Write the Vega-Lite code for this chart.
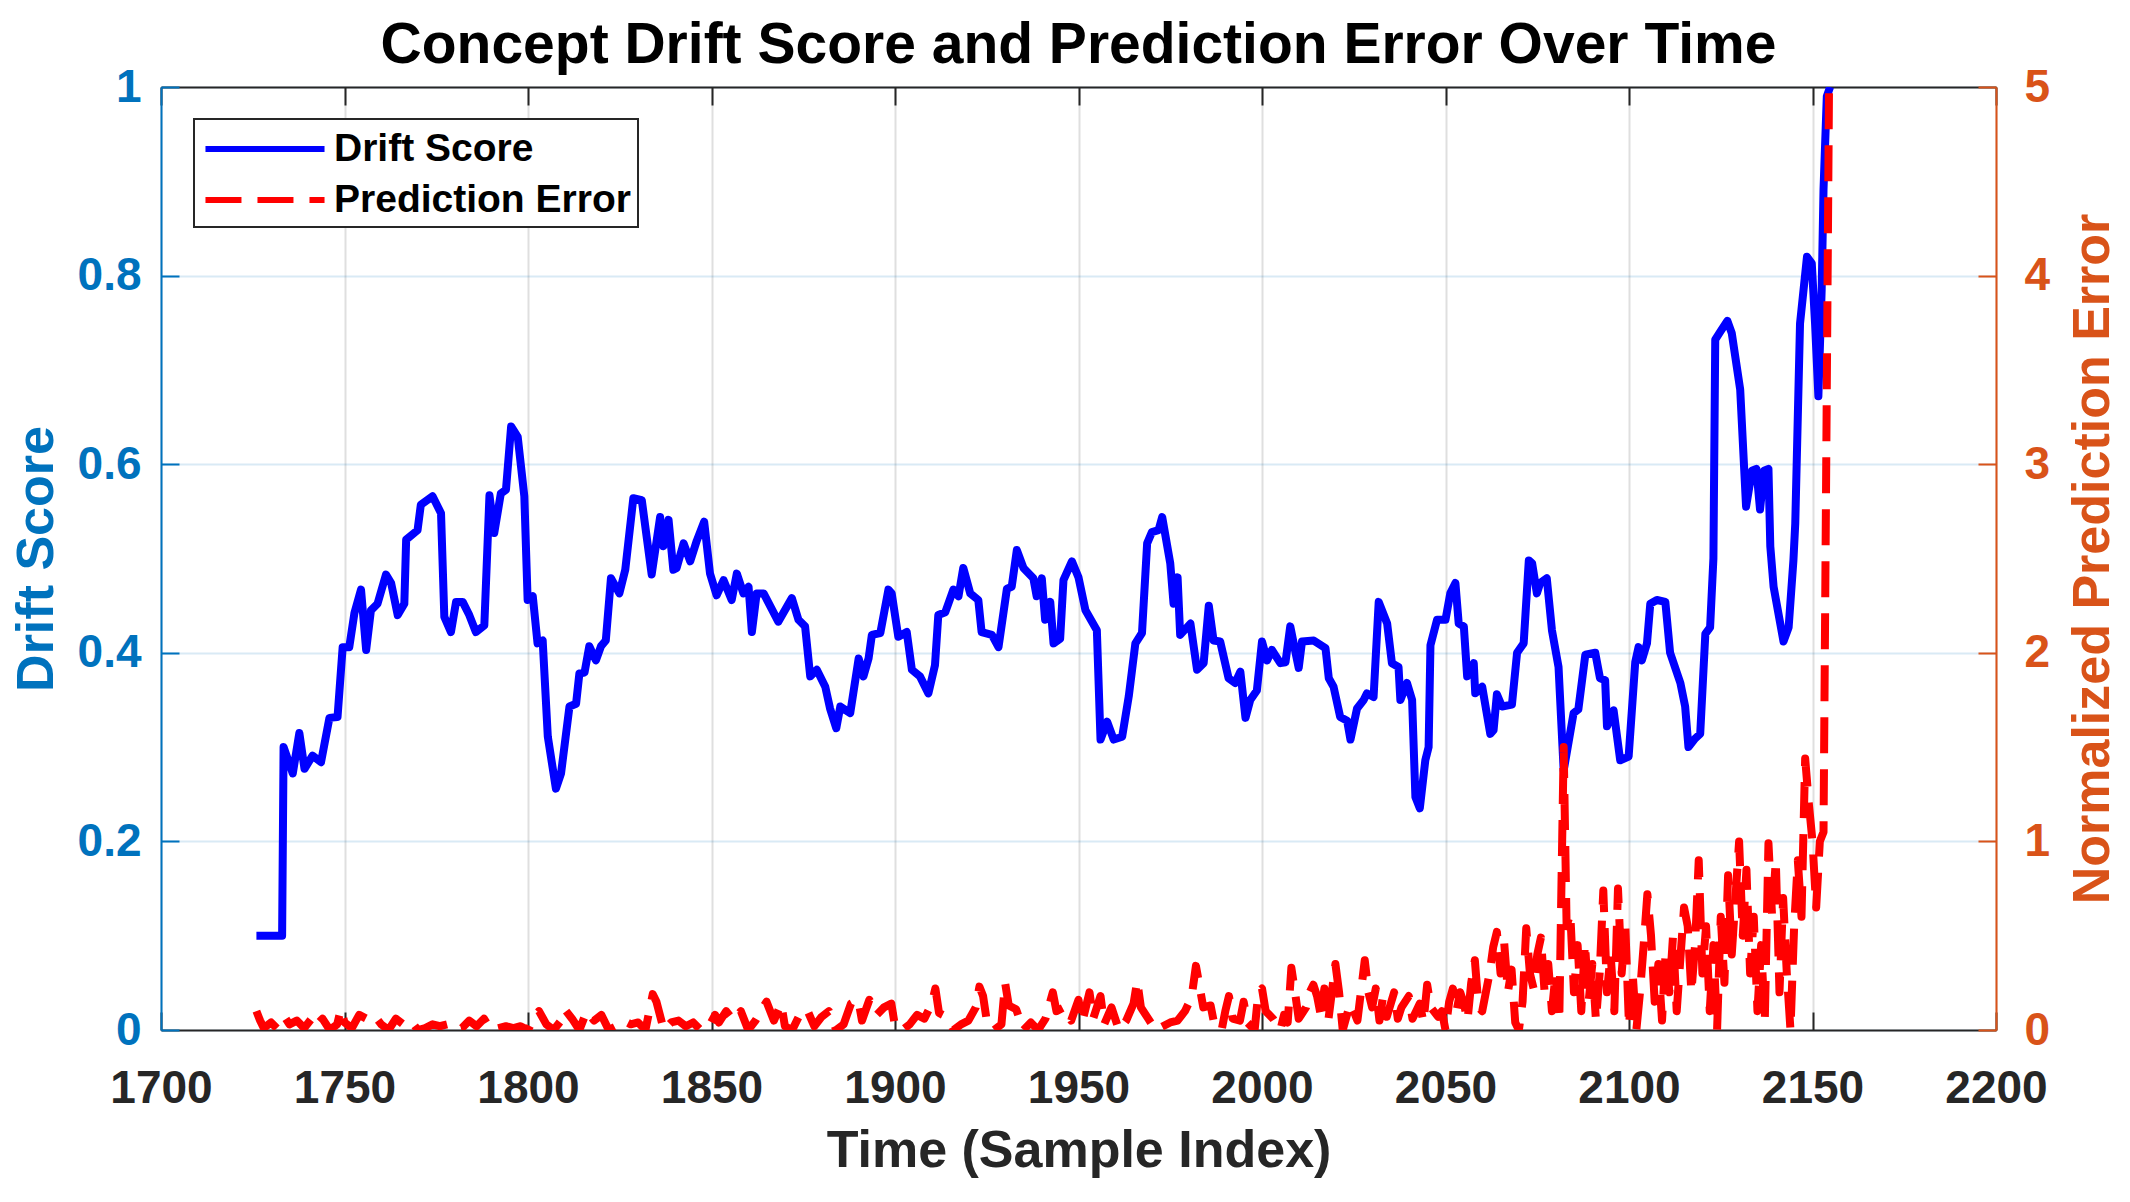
{
  "$schema": "https://vega.github.io/schema/vega-lite/v6.json",
  "width": 1835,
  "height": 943,
  "autosize": {"type": "none"},
  "padding": {"left": 161, "top": 87, "right": 134, "bottom": 172},
  "background": "white",
  "title": {
    "text": "Concept Drift Score and Prediction Error Over Time",
    "font": "Liberation Sans",
    "fontSize": 57,
    "fontWeight": "bold",
    "color": "#000000",
    "anchor": "middle",
    "offset": -11
  },
  "config": {"view": {"stroke": null}, "font": "Liberation Sans"},
  "datasets": {
    "drift": [
      {"t": 1726.0, "v": 0.1}, {"t": 1733.0, "v": 0.1}, {"t": 1733.4, "v": 0.3}, {"t": 1735.9, "v": 0.272},
      {"t": 1737.7, "v": 0.315}, {"t": 1739.1, "v": 0.277}, {"t": 1741.3, "v": 0.291}, {"t": 1743.6, "v": 0.284},
      {"t": 1745.9, "v": 0.331}, {"t": 1748.1, "v": 0.332}, {"t": 1749.5, "v": 0.406}, {"t": 1751.3, "v": 0.406},
      {"t": 1752.7, "v": 0.442}, {"t": 1754.5, "v": 0.467}, {"t": 1755.9, "v": 0.403}, {"t": 1757.2, "v": 0.445},
      {"t": 1759.0, "v": 0.452}, {"t": 1761.3, "v": 0.483}, {"t": 1762.7, "v": 0.474}, {"t": 1764.5, "v": 0.44},
      {"t": 1766.3, "v": 0.452}, {"t": 1766.8, "v": 0.52}, {"t": 1769.9, "v": 0.53}, {"t": 1770.8, "v": 0.557},
      {"t": 1774.0, "v": 0.566}, {"t": 1776.3, "v": 0.548}, {"t": 1777.2, "v": 0.438}, {"t": 1779.0, "v": 0.422},
      {"t": 1780.4, "v": 0.454}, {"t": 1782.2, "v": 0.454}, {"t": 1784.0, "v": 0.44}, {"t": 1785.8, "v": 0.422},
      {"t": 1788.1, "v": 0.429}, {"t": 1789.5, "v": 0.567}, {"t": 1790.8, "v": 0.527}, {"t": 1792.6, "v": 0.569},
      {"t": 1794.0, "v": 0.573}, {"t": 1795.4, "v": 0.64}, {"t": 1797.2, "v": 0.629}, {"t": 1799.0, "v": 0.566},
      {"t": 1799.9, "v": 0.456}, {"t": 1801.3, "v": 0.46}, {"t": 1802.6, "v": 0.41}, {"t": 1804.0, "v": 0.413},
      {"t": 1805.4, "v": 0.311}, {"t": 1807.6, "v": 0.256}, {"t": 1809.0, "v": 0.272}, {"t": 1811.3, "v": 0.343},
      {"t": 1813.1, "v": 0.346}, {"t": 1814.0, "v": 0.378}, {"t": 1815.4, "v": 0.379}, {"t": 1816.7, "v": 0.407},
      {"t": 1818.5, "v": 0.392}, {"t": 1819.9, "v": 0.407}, {"t": 1821.2, "v": 0.413}, {"t": 1822.6, "v": 0.479},
      {"t": 1824.9, "v": 0.463}, {"t": 1826.5, "v": 0.488}, {"t": 1828.7, "v": 0.564}, {"t": 1831.0, "v": 0.562},
      {"t": 1833.7, "v": 0.483}, {"t": 1836.0, "v": 0.544}, {"t": 1836.9, "v": 0.513}, {"t": 1838.3, "v": 0.541},
      {"t": 1839.6, "v": 0.488}, {"t": 1840.5, "v": 0.49}, {"t": 1842.4, "v": 0.516}, {"t": 1844.2, "v": 0.497},
      {"t": 1846.0, "v": 0.519}, {"t": 1848.0, "v": 0.539}, {"t": 1849.6, "v": 0.484}, {"t": 1851.4, "v": 0.461},
      {"t": 1853.3, "v": 0.477}, {"t": 1855.5, "v": 0.456}, {"t": 1856.9, "v": 0.484}, {"t": 1858.7, "v": 0.463},
      {"t": 1860.1, "v": 0.47}, {"t": 1861.0, "v": 0.422}, {"t": 1862.3, "v": 0.463}, {"t": 1864.2, "v": 0.463},
      {"t": 1868.2, "v": 0.433}, {"t": 1871.9, "v": 0.458}, {"t": 1873.7, "v": 0.435}, {"t": 1875.5, "v": 0.428},
      {"t": 1876.9, "v": 0.375}, {"t": 1878.7, "v": 0.382}, {"t": 1881.0, "v": 0.364}, {"t": 1882.3, "v": 0.341},
      {"t": 1884.0, "v": 0.32}, {"t": 1885.1, "v": 0.343}, {"t": 1887.8, "v": 0.336}, {"t": 1890.1, "v": 0.394},
      {"t": 1891.4, "v": 0.375}, {"t": 1892.8, "v": 0.394}, {"t": 1893.7, "v": 0.419}, {"t": 1896.0, "v": 0.421},
      {"t": 1898.2, "v": 0.467}, {"t": 1899.1, "v": 0.463}, {"t": 1900.9, "v": 0.417}, {"t": 1903.2, "v": 0.422},
      {"t": 1904.6, "v": 0.382}, {"t": 1906.8, "v": 0.375}, {"t": 1909.1, "v": 0.357}, {"t": 1910.9, "v": 0.387},
      {"t": 1911.8, "v": 0.44}, {"t": 1913.7, "v": 0.443}, {"t": 1915.9, "v": 0.467}, {"t": 1917.3, "v": 0.46},
      {"t": 1918.6, "v": 0.49}, {"t": 1920.5, "v": 0.463}, {"t": 1922.7, "v": 0.456}, {"t": 1923.6, "v": 0.422},
      {"t": 1926.4, "v": 0.419}, {"t": 1928.2, "v": 0.406}, {"t": 1930.5, "v": 0.468}, {"t": 1931.8, "v": 0.47},
      {"t": 1933.2, "v": 0.509}, {"t": 1935.0, "v": 0.49}, {"t": 1937.7, "v": 0.479}, {"t": 1938.6, "v": 0.46},
      {"t": 1940.0, "v": 0.479}, {"t": 1940.9, "v": 0.435}, {"t": 1942.3, "v": 0.454}, {"t": 1943.2, "v": 0.41},
      {"t": 1945.0, "v": 0.415}, {"t": 1945.9, "v": 0.477}, {"t": 1948.2, "v": 0.497}, {"t": 1950.0, "v": 0.48},
      {"t": 1951.9, "v": 0.445}, {"t": 1955.0, "v": 0.424}, {"t": 1956.0, "v": 0.308}, {"t": 1957.8, "v": 0.327},
      {"t": 1959.6, "v": 0.308}, {"t": 1961.9, "v": 0.311}, {"t": 1963.7, "v": 0.354}, {"t": 1965.5, "v": 0.41},
      {"t": 1967.3, "v": 0.421}, {"t": 1968.7, "v": 0.516}, {"t": 1970.0, "v": 0.528}, {"t": 1971.8, "v": 0.53},
      {"t": 1972.8, "v": 0.544}, {"t": 1975.0, "v": 0.495}, {"t": 1975.9, "v": 0.452}, {"t": 1977.0, "v": 0.48},
      {"t": 1977.7, "v": 0.419}, {"t": 1980.5, "v": 0.431}, {"t": 1982.3, "v": 0.382}, {"t": 1984.1, "v": 0.389},
      {"t": 1985.5, "v": 0.45}, {"t": 1986.8, "v": 0.413}, {"t": 1988.6, "v": 0.412}, {"t": 1990.9, "v": 0.373},
      {"t": 1992.7, "v": 0.368}, {"t": 1994.1, "v": 0.38}, {"t": 1995.5, "v": 0.331}, {"t": 1996.8, "v": 0.35},
      {"t": 1998.6, "v": 0.36}, {"t": 2000.0, "v": 0.412}, {"t": 2001.4, "v": 0.392}, {"t": 2002.7, "v": 0.403},
      {"t": 2005.0, "v": 0.389}, {"t": 2006.4, "v": 0.39}, {"t": 2007.7, "v": 0.428}, {"t": 2009.1, "v": 0.401},
      {"t": 2010.0, "v": 0.384}, {"t": 2010.9, "v": 0.412}, {"t": 2014.1, "v": 0.413}, {"t": 2017.3, "v": 0.405},
      {"t": 2018.2, "v": 0.373}, {"t": 2019.5, "v": 0.364}, {"t": 2021.3, "v": 0.332}, {"t": 2023.2, "v": 0.328},
      {"t": 2024.1, "v": 0.308}, {"t": 2025.9, "v": 0.341}, {"t": 2027.7, "v": 0.35}, {"t": 2028.6, "v": 0.357},
      {"t": 2030.4, "v": 0.353}, {"t": 2031.8, "v": 0.454}, {"t": 2034.1, "v": 0.431}, {"t": 2035.4, "v": 0.389},
      {"t": 2037.2, "v": 0.385}, {"t": 2037.7, "v": 0.35}, {"t": 2039.5, "v": 0.368}, {"t": 2040.9, "v": 0.35},
      {"t": 2041.8, "v": 0.247}, {"t": 2043.0, "v": 0.235}, {"t": 2044.5, "v": 0.286}, {"t": 2045.4, "v": 0.3},
      {"t": 2045.9, "v": 0.408}, {"t": 2047.7, "v": 0.435}, {"t": 2050.0, "v": 0.435}, {"t": 2051.3, "v": 0.463},
      {"t": 2052.7, "v": 0.474}, {"t": 2053.6, "v": 0.431}, {"t": 2055.0, "v": 0.428}, {"t": 2055.9, "v": 0.375},
      {"t": 2057.7, "v": 0.389}, {"t": 2058.1, "v": 0.357}, {"t": 2060.0, "v": 0.364}, {"t": 2062.2, "v": 0.314},
      {"t": 2063.1, "v": 0.318}, {"t": 2064.0, "v": 0.356}, {"t": 2065.4, "v": 0.343}, {"t": 2068.1, "v": 0.345},
      {"t": 2069.5, "v": 0.4}, {"t": 2071.3, "v": 0.41}, {"t": 2072.7, "v": 0.498}, {"t": 2073.6, "v": 0.495},
      {"t": 2074.9, "v": 0.463}, {"t": 2075.8, "v": 0.474}, {"t": 2077.6, "v": 0.479}, {"t": 2079.0, "v": 0.424},
      {"t": 2080.8, "v": 0.385}, {"t": 2082.2, "v": 0.275}, {"t": 2084.9, "v": 0.336}, {"t": 2086.2, "v": 0.34},
      {"t": 2088.1, "v": 0.398}, {"t": 2090.8, "v": 0.4}, {"t": 2092.1, "v": 0.373}, {"t": 2093.5, "v": 0.371},
      {"t": 2094.0, "v": 0.322}, {"t": 2095.8, "v": 0.339}, {"t": 2097.6, "v": 0.286}, {"t": 2099.9, "v": 0.29},
      {"t": 2101.7, "v": 0.39}, {"t": 2102.6, "v": 0.406}, {"t": 2103.5, "v": 0.392}, {"t": 2104.9, "v": 0.41},
      {"t": 2105.8, "v": 0.452}, {"t": 2107.6, "v": 0.456}, {"t": 2109.9, "v": 0.454}, {"t": 2111.2, "v": 0.4},
      {"t": 2114.0, "v": 0.368}, {"t": 2115.3, "v": 0.343}, {"t": 2116.2, "v": 0.3}, {"t": 2118.0, "v": 0.309},
      {"t": 2119.4, "v": 0.314}, {"t": 2120.8, "v": 0.42}, {"t": 2122.1, "v": 0.427}, {"t": 2123.0, "v": 0.5},
      {"t": 2123.5, "v": 0.732}, {"t": 2124.8, "v": 0.74}, {"t": 2126.8, "v": 0.752}, {"t": 2128.0, "v": 0.739},
      {"t": 2130.3, "v": 0.679}, {"t": 2131.9, "v": 0.555}, {"t": 2133.5, "v": 0.593}, {"t": 2134.7, "v": 0.595},
      {"t": 2135.7, "v": 0.552}, {"t": 2136.8, "v": 0.593}, {"t": 2138.0, "v": 0.595}, {"t": 2138.5, "v": 0.513},
      {"t": 2139.4, "v": 0.47}, {"t": 2142.1, "v": 0.412}, {"t": 2143.5, "v": 0.427}, {"t": 2144.8, "v": 0.498},
      {"t": 2145.3, "v": 0.537}, {"t": 2146.6, "v": 0.749}, {"t": 2148.5, "v": 0.82}, {"t": 2149.8, "v": 0.813},
      {"t": 2150.7, "v": 0.749}, {"t": 2151.6, "v": 0.672}, {"t": 2152.5, "v": 0.785}, {"t": 2153.0, "v": 0.891},
      {"t": 2153.9, "v": 0.99}, {"t": 2154.8, "v": 1.0}
    ],
    "err": [
      {"t": 1726, "e": 0.1}, {"t": 1727, "e": 0.05}, {"t": 1728, "e": 0.01}, {"t": 1730, "e": 0.04}, {"t": 1732, "e": 0.0},
      {"t": 1734, "e": 0.06}, {"t": 1735, "e": 0.03}, {"t": 1737, "e": 0.05}, {"t": 1739, "e": 0.01}, {"t": 1741, "e": 0.06},
      {"t": 1742, "e": 0.02}, {"t": 1744, "e": 0.06}, {"t": 1746, "e": 0.0}, {"t": 1748, "e": 0.03}, {"t": 1749, "e": 0.11},
      {"t": 1750, "e": 0.04}, {"t": 1752, "e": 0.01}, {"t": 1754, "e": 0.08}, {"t": 1756, "e": 0.06}, {"t": 1758, "e": 0.08},
      {"t": 1760, "e": 0.03}, {"t": 1762, "e": 0.0}, {"t": 1764, "e": 0.06}, {"t": 1766, "e": 0.03}, {"t": 1768, "e": 0.05},
      {"t": 1770, "e": 0.0}, {"t": 1772, "e": 0.01}, {"t": 1774, "e": 0.03}, {"t": 1776, "e": 0.02}, {"t": 1778, "e": 0.03},
      {"t": 1780, "e": 0.0}, {"t": 1782, "e": 0.01}, {"t": 1784, "e": 0.05}, {"t": 1786, "e": 0.02}, {"t": 1788, "e": 0.06},
      {"t": 1790, "e": 0.0}, {"t": 1792, "e": 0.01}, {"t": 1794, "e": 0.02}, {"t": 1796, "e": 0.01}, {"t": 1798, "e": 0.02},
      {"t": 1800, "e": 0.0}, {"t": 1802, "e": 0.08}, {"t": 1803, "e": 0.1}, {"t": 1805, "e": 0.03}, {"t": 1807, "e": 0.0},
      {"t": 1809, "e": 0.05}, {"t": 1810, "e": 0.11}, {"t": 1812, "e": 0.06}, {"t": 1814, "e": 0.0}, {"t": 1816, "e": 0.1},
      {"t": 1818, "e": 0.05}, {"t": 1820, "e": 0.08}, {"t": 1822, "e": 0.0}, {"t": 1824, "e": 0.02}, {"t": 1826, "e": 0.05},
      {"t": 1828, "e": 0.03}, {"t": 1830, "e": 0.04}, {"t": 1832, "e": 0.0}, {"t": 1834, "e": 0.19}, {"t": 1835, "e": 0.15},
      {"t": 1837, "e": 0.0}, {"t": 1839, "e": 0.04}, {"t": 1841, "e": 0.05}, {"t": 1843, "e": 0.02}, {"t": 1845, "e": 0.04},
      {"t": 1847, "e": 0.0}, {"t": 1849, "e": 0.01}, {"t": 1851, "e": 0.08}, {"t": 1852, "e": 0.04}, {"t": 1854, "e": 0.1},
      {"t": 1856, "e": 0.05}, {"t": 1858, "e": 0.1}, {"t": 1860, "e": 0.0}, {"t": 1862, "e": 0.05}, {"t": 1864, "e": 0.12},
      {"t": 1865, "e": 0.15}, {"t": 1867, "e": 0.05}, {"t": 1869, "e": 0.14}, {"t": 1870, "e": 0.02}, {"t": 1872, "e": 0.0},
      {"t": 1874, "e": 0.08}, {"t": 1876, "e": 0.11}, {"t": 1878, "e": 0.02}, {"t": 1880, "e": 0.07}, {"t": 1882, "e": 0.1},
      {"t": 1884, "e": 0.0}, {"t": 1886, "e": 0.03}, {"t": 1888, "e": 0.14}, {"t": 1890, "e": 0.16}, {"t": 1891, "e": 0.05},
      {"t": 1893, "e": 0.16}, {"t": 1895, "e": 0.08}, {"t": 1897, "e": 0.12}, {"t": 1899, "e": 0.14}, {"t": 1900, "e": 0.02},
      {"t": 1902, "e": 0.0}, {"t": 1904, "e": 0.03}, {"t": 1906, "e": 0.08}, {"t": 1908, "e": 0.06}, {"t": 1910, "e": 0.14},
      {"t": 1911, "e": 0.22}, {"t": 1912, "e": 0.09}, {"t": 1914, "e": 0.07}, {"t": 1916, "e": 0.0}, {"t": 1918, "e": 0.03},
      {"t": 1920, "e": 0.05}, {"t": 1922, "e": 0.12}, {"t": 1923, "e": 0.23}, {"t": 1924, "e": 0.18}, {"t": 1925, "e": 0.05},
      {"t": 1927, "e": 0.0}, {"t": 1929, "e": 0.03}, {"t": 1930, "e": 0.25}, {"t": 1931, "e": 0.13}, {"t": 1933, "e": 0.11},
      {"t": 1935, "e": 0.0}, {"t": 1937, "e": 0.04}, {"t": 1939, "e": 0.0}, {"t": 1941, "e": 0.06}, {"t": 1943, "e": 0.2},
      {"t": 1944, "e": 0.1}, {"t": 1946, "e": 0.12}, {"t": 1948, "e": 0.05}, {"t": 1950, "e": 0.16}, {"t": 1951, "e": 0.04},
      {"t": 1953, "e": 0.2}, {"t": 1954, "e": 0.06}, {"t": 1956, "e": 0.18}, {"t": 1957, "e": 0.03}, {"t": 1959, "e": 0.12},
      {"t": 1961, "e": 0.0}, {"t": 1963, "e": 0.05}, {"t": 1965, "e": 0.14}, {"t": 1966, "e": 0.26}, {"t": 1967, "e": 0.12},
      {"t": 1969, "e": 0.06}, {"t": 1971, "e": 0.0}, {"t": 1973, "e": 0.02}, {"t": 1975, "e": 0.04}, {"t": 1977, "e": 0.05},
      {"t": 1979, "e": 0.1}, {"t": 1980, "e": 0.14}, {"t": 1981, "e": 0.2}, {"t": 1982, "e": 0.34}, {"t": 1983, "e": 0.23},
      {"t": 1984, "e": 0.12}, {"t": 1986, "e": 0.13}, {"t": 1987, "e": 0.03}, {"t": 1989, "e": 0.0}, {"t": 1990, "e": 0.1},
      {"t": 1991, "e": 0.18}, {"t": 1992, "e": 0.06}, {"t": 1994, "e": 0.05}, {"t": 1995, "e": 0.15}, {"t": 1996, "e": 0.04},
      {"t": 1998, "e": 0.0}, {"t": 1999, "e": 0.2}, {"t": 2000, "e": 0.22}, {"t": 2001, "e": 0.1}, {"t": 2003, "e": 0.06},
      {"t": 2005, "e": 0.0}, {"t": 2006, "e": 0.08}, {"t": 2007, "e": 0.04}, {"t": 2008, "e": 0.33}, {"t": 2009, "e": 0.2},
      {"t": 2010, "e": 0.06}, {"t": 2012, "e": 0.12}, {"t": 2013, "e": 0.2}, {"t": 2014, "e": 0.24}, {"t": 2015, "e": 0.18},
      {"t": 2016, "e": 0.08}, {"t": 2017, "e": 0.22}, {"t": 2018, "e": 0.04}, {"t": 2020, "e": 0.35}, {"t": 2021, "e": 0.2},
      {"t": 2022, "e": 0.0}, {"t": 2024, "e": 0.14}, {"t": 2025, "e": 0.1}, {"t": 2026, "e": 0.05}, {"t": 2028, "e": 0.37},
      {"t": 2029, "e": 0.2}, {"t": 2030, "e": 0.12}, {"t": 2031, "e": 0.22}, {"t": 2032, "e": 0.05}, {"t": 2033, "e": 0.18},
      {"t": 2034, "e": 0.07}, {"t": 2036, "e": 0.2}, {"t": 2037, "e": 0.06}, {"t": 2038, "e": 0.12}, {"t": 2040, "e": 0.18},
      {"t": 2041, "e": 0.06}, {"t": 2042, "e": 0.1}, {"t": 2043, "e": 0.14}, {"t": 2044, "e": 0.04}, {"t": 2045, "e": 0.24},
      {"t": 2046, "e": 0.12}, {"t": 2048, "e": 0.07}, {"t": 2049, "e": 0.1}, {"t": 2050, "e": 0.0}, {"t": 2051, "e": 0.15},
      {"t": 2052, "e": 0.22}, {"t": 2053, "e": 0.1}, {"t": 2054, "e": 0.2}, {"t": 2055, "e": 0.14}, {"t": 2056, "e": 0.05},
      {"t": 2057, "e": 0.25}, {"t": 2058, "e": 0.37}, {"t": 2059, "e": 0.12}, {"t": 2060, "e": 0.1}, {"t": 2061, "e": 0.2},
      {"t": 2062, "e": 0.3}, {"t": 2063, "e": 0.44}, {"t": 2064, "e": 0.52}, {"t": 2065, "e": 0.3}, {"t": 2066, "e": 0.46},
      {"t": 2067, "e": 0.2}, {"t": 2068, "e": 0.32}, {"t": 2069, "e": 0.04}, {"t": 2070, "e": 0.0}, {"t": 2071, "e": 0.15},
      {"t": 2072, "e": 0.54}, {"t": 2073, "e": 0.3}, {"t": 2074, "e": 0.22}, {"t": 2075, "e": 0.4}, {"t": 2076, "e": 0.49},
      {"t": 2077, "e": 0.2}, {"t": 2078, "e": 0.35}, {"t": 2079, "e": 0.1}, {"t": 2080, "e": 0.3}, {"t": 2081, "e": 0.05},
      {"t": 2082.2, "e": 1.5}, {"t": 2083, "e": 0.55}, {"t": 2084, "e": 0.62}, {"t": 2085, "e": 0.2}, {"t": 2086, "e": 0.45},
      {"t": 2087, "e": 0.1}, {"t": 2088, "e": 0.46}, {"t": 2089, "e": 0.15}, {"t": 2090, "e": 0.35}, {"t": 2091, "e": 0.05},
      {"t": 2092, "e": 0.3}, {"t": 2093, "e": 0.74}, {"t": 2094, "e": 0.2}, {"t": 2095, "e": 0.4}, {"t": 2096, "e": 0.1},
      {"t": 2097, "e": 0.75}, {"t": 2098, "e": 0.3}, {"t": 2099, "e": 0.55}, {"t": 2100, "e": 0.02}, {"t": 2101, "e": 0.3},
      {"t": 2102, "e": 0.0}, {"t": 2103, "e": 0.2}, {"t": 2104, "e": 0.45}, {"t": 2105, "e": 0.72}, {"t": 2106, "e": 0.5},
      {"t": 2107, "e": 0.15}, {"t": 2108, "e": 0.35}, {"t": 2109, "e": 0.05}, {"t": 2110, "e": 0.42}, {"t": 2111, "e": 0.2},
      {"t": 2112, "e": 0.5}, {"t": 2113, "e": 0.1}, {"t": 2114, "e": 0.38}, {"t": 2115, "e": 0.65}, {"t": 2116, "e": 0.55},
      {"t": 2117, "e": 0.2}, {"t": 2118, "e": 0.45}, {"t": 2119, "e": 0.9}, {"t": 2120, "e": 0.3}, {"t": 2121, "e": 0.55},
      {"t": 2122, "e": 0.1}, {"t": 2123, "e": 0.45}, {"t": 2124, "e": 0.0}, {"t": 2125, "e": 0.6}, {"t": 2126, "e": 0.25},
      {"t": 2127, "e": 0.82}, {"t": 2128, "e": 0.4}, {"t": 2129, "e": 0.7}, {"t": 2130, "e": 1.0}, {"t": 2131, "e": 0.5},
      {"t": 2132, "e": 0.85}, {"t": 2133, "e": 0.3}, {"t": 2134, "e": 0.6}, {"t": 2135, "e": 0.1}, {"t": 2136, "e": 0.45},
      {"t": 2137, "e": 0.05}, {"t": 2138, "e": 0.99}, {"t": 2139, "e": 0.6}, {"t": 2140, "e": 0.9}, {"t": 2141, "e": 0.2},
      {"t": 2142, "e": 0.7}, {"t": 2143, "e": 0.3}, {"t": 2144, "e": 0.0}, {"t": 2145, "e": 0.55}, {"t": 2146, "e": 0.9},
      {"t": 2147, "e": 0.6}, {"t": 2148, "e": 1.44}, {"t": 2149, "e": 1.2}, {"t": 2150, "e": 1.0}, {"t": 2151, "e": 0.65},
      {"t": 2152, "e": 1.0}, {"t": 2153, "e": 1.05}, {"t": 2154.5, "e": 5.0}
    ]
  },
  "layer": [
    {
      "data": {"name": "drift"},
      "mark": {"type": "line", "strokeWidth": 8, "strokeJoin": "round", "clip": true},
      "encoding": {
        "x": {
          "field": "t", "type": "quantitative",
          "scale": {"domain": [1700, 2200], "nice": false, "zero": false},
          "axis": {
            "orient": "bottom",
            "values": [1700, 1750, 1800, 1850, 1900, 1950, 2000, 2050, 2100, 2150, 2200],
            "format": "d",
            "title": "Time (Sample Index)",
            "titleFont": "Liberation Sans", "titleFontSize": 52, "titleFontWeight": "bold", "titleColor": "#262626",
            "titlePadding": 14,
            "labelFont": "Liberation Sans", "labelFontSize": 46, "labelFontWeight": "bold", "labelColor": "#262626",
            "labelPadding": 54, "labelFlush": false, "labelOverlap": false,
            "tickSize": -18, "tickWidth": 2, "tickColor": "#262626",
            "domainColor": "#262626", "domainWidth": 2,
            "grid": true, "gridColor": "#262626", "gridOpacity": 0.15, "gridWidth": 2
          }
        },
        "y": {
          "field": "v", "type": "quantitative",
          "scale": {"domain": [0, 1], "nice": false},
          "axis": {
            "orient": "left",
            "values": [0, 0.2, 0.4, 0.6, 0.8, 1],
            "format": "~g",
            "title": "Drift Score",
            "titleFont": "Liberation Sans", "titleFontSize": 52, "titleFontWeight": "bold", "titleColor": "#0072BD",
            "titlePadding": 14,
            "labelFont": "Liberation Sans", "labelFontSize": 46, "labelFontWeight": "bold", "labelColor": "#0072BD",
            "labelPadding": 38, "labelFlush": false, "labelOverlap": false,
            "tickSize": -18, "tickWidth": 2, "tickColor": "#0072BD",
            "domainColor": "#0072BD", "domainWidth": 2,
            "grid": true, "gridColor": "#0072BD", "gridOpacity": 0.15, "gridWidth": 2
          }
        },
        "stroke": {
          "datum": "Drift Score",
          "scale": {"domain": ["Drift Score", "Prediction Error"], "range": ["#0000FF", "#FF0000"]},
          "legend": {
            "title": null,
            "orient": "none",
            "legendX": 33,
            "legendY": 32,
            "symbolType": "M-3,0H3",
            "symbolSize": 1575,
            "symbolStrokeWidth": 6,
            "symbolOffset": 41,
            "labelOffset": 46,
            "labelLimit": 500,
            "labelFont": "Liberation Sans", "labelFontSize": 39, "labelFontWeight": "bold", "labelColor": "#000000",
            "padding": 7,
            "rowPadding": 8,
            "strokeColor": "#262626",
            "fillColor": "#FFFFFF",
            "encode": {
              "symbols": {"update": {"strokeDash": {"signal": "datum.value === 'Prediction Error' ? [36, 16] : [1, 0]"}}},
              "legend": {"update": {"strokeWidth": {"value": 2}}}
            }
          }
        }
      }
    },
    {
      "data": {"name": "err"},
      "mark": {"type": "line", "strokeWidth": 8, "strokeDash": [36, 16], "strokeJoin": "round", "clip": true},
      "encoding": {
        "x": {
          "field": "t", "type": "quantitative",
          "axis": {
            "orient": "top",
            "values": [1700, 1750, 1800, 1850, 1900, 1950, 2000, 2050, 2100, 2150, 2200],
            "labels": false, "title": null, "grid": false,
            "tickSize": -18, "tickWidth": 2, "tickColor": "#262626",
            "domainColor": "#262626", "domainWidth": 2
          }
        },
        "y": {
          "field": "e", "type": "quantitative",
          "scale": {"domain": [0, 5], "nice": false},
          "axis": {
            "orient": "right",
            "values": [0, 1, 2, 3, 4, 5],
            "format": "d",
            "title": "Normalized Prediction Error",
            "titleFont": "Liberation Sans", "titleFontSize": 52, "titleFontWeight": "bold", "titleColor": "#D95319",
            "titleAngle": 270, "titleBaseline": "top",
            "titlePadding": 18,
            "labelFont": "Liberation Sans", "labelFontSize": 46, "labelFontWeight": "bold", "labelColor": "#D95319",
            "labelPadding": 46, "labelFlush": false, "labelOverlap": false,
            "tickSize": -18, "tickWidth": 2, "tickColor": "#D95319",
            "domainColor": "#D95319", "domainWidth": 2,
            "grid": false
          }
        },
        "stroke": {"datum": "Prediction Error"}
      }
    }
  ],
  "resolve": {"scale": {"y": "independent"}, "axis": {"x": "independent"}}
}
